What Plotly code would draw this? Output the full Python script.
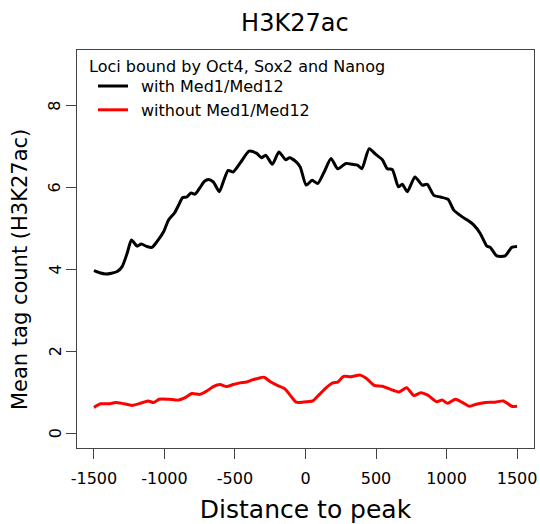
import plotly.graph_objects as go

# Distance to peak (bp) and mean tag counts
x_with = [-1500, -1460, -1417, -1375, -1335, -1300, -1264, -1234, -1194, -1164, -1124, -1088,
          -1053, -1006, -971, -929, -900, -872, -841, -811, -783, -748, -717, -689, -654,
          -611, -583, -548, -513, -465, -400, -348, -312, -282, -235, -188, -141, -113, -66,
          -37, 5, 47, 87, 135, 181, 228, 287, 330, 369, 400, 451, 498, 545, 580, 616, 658,
          686, 722, 776, 827, 863, 910, 957, 1011, 1051, 1109, 1150, 1192, 1239, 1286, 1310,
          1356, 1415, 1462, 1500]
y_with = [3.97, 3.92, 3.89, 3.91, 3.95, 4.07, 4.40, 4.72, 4.57, 4.62, 4.56, 4.54,
          4.68, 4.92, 5.21, 5.38, 5.57, 5.75, 5.77, 5.87, 5.84, 6.00, 6.15, 6.20, 6.14,
          5.90, 6.14, 6.42, 6.38, 6.59, 6.89, 6.84, 6.73, 6.79, 6.57, 6.87, 6.68, 6.73, 6.63,
          6.50, 6.06, 6.18, 6.10, 6.40, 6.71, 6.46, 6.59, 6.57, 6.55, 6.46, 6.95, 6.81, 6.68,
          6.46, 6.44, 6.02, 6.08, 5.90, 6.26, 6.06, 6.08, 5.81, 5.77, 5.71, 5.45, 5.29, 5.20,
          5.09, 4.88, 4.57, 4.54, 4.33, 4.33, 4.54, 4.56]

x_without = [-1500, -1453, -1394, -1347, -1300, -1229, -1171, -1117, -1077, -1037, -971, -900,
             -853, -806, -748, -700, -654, -606, -559, -513, -465, -418, -372, -336, -294,
             -254, -207, -148, -113, -66, -19, 51, 99, 146, 193, 228, 270, 322, 388, 428, 487,
             545, 604, 663, 717, 769, 816, 867, 929, 968, 1008, 1063, 1109, 1164, 1211, 1274,
             1345, 1403, 1462, 1500]
y_without = [0.63, 0.72, 0.72, 0.75, 0.73, 0.68, 0.73, 0.79, 0.75, 0.83, 0.83, 0.81,
             0.87, 0.97, 0.95, 1.03, 1.14, 1.19, 1.14, 1.19, 1.23, 1.25, 1.31, 1.34, 1.37,
             1.27, 1.18, 1.09, 0.95, 0.76, 0.76, 0.79, 0.95, 1.11, 1.23, 1.25, 1.39, 1.38, 1.42,
             1.35, 1.17, 1.15, 1.07, 1.01, 1.11, 0.92, 0.99, 0.93, 0.77, 0.81, 0.73, 0.83, 0.76,
             0.66, 0.71, 0.75, 0.76, 0.79, 0.66, 0.66]

x_ticks = [-1500, -1000, -500, 0, 500, 1000, 1500]
y_ticks = [0, 2, 4, 6, 8]

FONT = "DejaVu Sans"
PAD = "\u2002"  # small spacing between legend line sample and label

fig = go.Figure()
fig.add_trace(go.Scatter(x=x_with, y=y_with, mode="lines", name=PAD + "with Med1/Med12",
                         line=dict(color="black", width=3, shape="spline", smoothing=0.6)))
fig.add_trace(go.Scatter(x=x_without, y=y_without, mode="lines", name=PAD + "without Med1/Med12",
                         line=dict(color="#ff0000", width=3, shape="spline", smoothing=0.6)))

axis_common = dict(showgrid=False, zeroline=False, showline=True, mirror=True,
                   linecolor="#444", linewidth=1, ticks="outside", ticklen=10,
                   tickcolor="#444", tickwidth=1, ticklabeloverflow="allow",
                   tickfont=dict(family=FONT, size=16, color="black"))

# rotated y tick labels (R style, parallel to the axis), placed on the y scale
ytick_annots = [dict(text=str(v), xref="paper", yref="y", x=0, xshift=-22, y=v,
                     xanchor="center", yanchor="middle", textangle=-90, showarrow=False,
                     font=dict(family=FONT, size=16, color="black"))
                for v in y_ticks]

fig.update_layout(
    width=540, height=524,
    margin=dict(l=77, r=3, t=50, b=76),
    paper_bgcolor="white", plot_bgcolor="white",
    font=dict(family=FONT, color="black"),
    title=dict(text="H3K27ac", x=0.546, xanchor="center", y=0.957, yanchor="middle",
               font=dict(family=FONT, size=24, color="black")),
    xaxis=dict(range=[-1620, 1620], tickvals=x_ticks, ticktext=[str(v) for v in x_ticks],
               ticklabelstandoff=6,
               title=dict(text="Distance to peak", font=dict(family=FONT, size=25), standoff=14),
               **axis_common),
    yaxis=dict(range=[-0.36, 9.36], tickvals=y_ticks, showticklabels=False,
               **axis_common),
    showlegend=True,
    legend=dict(x=0.035, y=0.952, xanchor="left", yanchor="top", bgcolor="rgba(0,0,0,0)",
                font=dict(family=FONT, size=16, color="black"), tracegroupgap=0,
                itemwidth=30),
    annotations=[
        dict(text="Loci bound by Oct4, Sox2 and Nanog", xref="paper", yref="paper",
             x=0.022, y=0.958, xanchor="left", yanchor="middle", showarrow=False,
             font=dict(family=FONT, size=16, color="black")),
        dict(text="Mean tag count (H3K27ac)", xref="paper", yref="paper",
             x=0, xshift=-57, y=0.447, xanchor="center", yanchor="middle",
             textangle=-90, showarrow=False,
             font=dict(family=FONT, size=21, color="black")),
    ] + ytick_annots,
)

fig.write_html("out.html")
